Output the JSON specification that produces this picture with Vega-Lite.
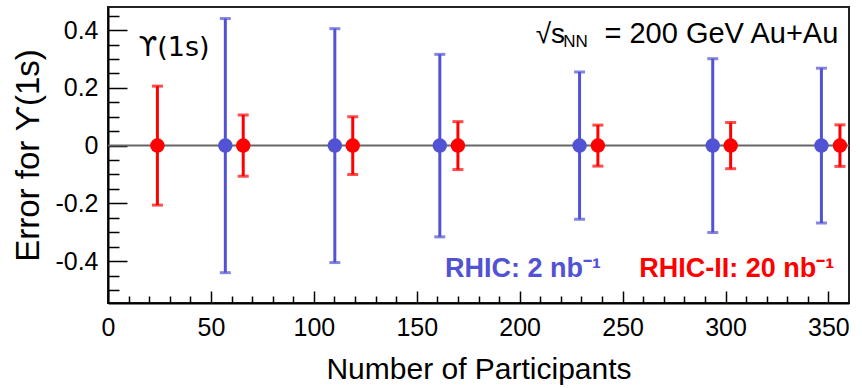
{
  "$schema": "https://vega.github.io/schema/vega-lite/v6.json",
  "width": 741,
  "height": 296,
  "autosize": "none",
  "padding": {"left": 108, "top": 7, "right": 13, "bottom": 85},
  "background": "white",
  "config": {
    "font": "Liberation Sans",
    "view": {"stroke": "#222", "strokeWidth": 2},
    "axis": {
      "grid": false,
      "labelFont": "Liberation Sans",
      "titleFont": "Liberation Sans",
      "labelColor": "black",
      "titleColor": "black",
      "titleFontWeight": "normal",
      "domainColor": "black",
      "tickColor": "black",
      "labelFlush": false,
      "labelOverlap": false
    }
  },
  "data": {"values": [{}]},
  "datasets": {
    "errors": [
      {"run": "RHIC", "npart": 57.0, "val": 0, "err": 0.44},
      {"run": "RHIC", "npart": 110.2, "val": 0, "err": 0.405},
      {"run": "RHIC", "npart": 161.2, "val": 0, "err": 0.316},
      {"run": "RHIC", "npart": 229.1, "val": 0, "err": 0.255},
      {"run": "RHIC", "npart": 293.8, "val": 0, "err": 0.301},
      {"run": "RHIC", "npart": 346.6, "val": 0, "err": 0.268},
      {"run": "RHIC-II", "npart": 24.0, "val": 0, "err": 0.206},
      {"run": "RHIC-II", "npart": 65.7, "val": 0, "err": 0.106},
      {"run": "RHIC-II", "npart": 118.9, "val": 0, "err": 0.1},
      {"run": "RHIC-II", "npart": 170.0, "val": 0, "err": 0.083},
      {"run": "RHIC-II", "npart": 238.0, "val": 0, "err": 0.071},
      {"run": "RHIC-II", "npart": 302.5, "val": 0, "err": 0.08},
      {"run": "RHIC-II", "npart": 355.6, "val": 0, "err": 0.072}
    ]
  },
  "resolve": {"axis": {"x": "independent", "y": "independent"}},
  "layer": [
    {
      "mark": {"type": "rule", "color": "#666", "strokeWidth": 2},
      "encoding": {
        "y": {"datum": 0, "type": "quantitative", "scale": {"domain": [-0.545, 0.48], "nice": false, "zero": false}, "axis": null}
      }
    },
    {
      "data": {"name": "errors"},
      "mark": {"type": "errorbar", "thickness": 3, "ticks": {"size": 11, "thickness": 3}},
      "encoding": {
        "x": {
          "field": "npart", "type": "quantitative",
          "scale": {"domain": [0, 360], "nice": false, "zero": false},
          "axis": {
            "orient": "bottom", "title": null, "labels": false, "domain": false,
            "values": [10, 20, 30, 40, 60, 70, 80, 90, 110, 120, 130, 140, 160, 170, 180, 190, 210, 220, 230, 240, 260, 270, 280, 290, 310, 320, 330, 340],
            "tickSize": -7, "tickWidth": 1.5
          }
        },
        "y": {
          "field": "val", "type": "quantitative",
          "scale": {"domain": [-0.545, 0.48], "nice": false, "zero": false},
          "axis": {
            "orient": "left", "title": null, "labels": false, "domain": false,
            "values": [-0.5, -0.45, -0.35, -0.3, -0.25, -0.15, -0.1, -0.05, 0.05, 0.1, 0.15, 0.25, 0.3, 0.35, 0.45],
            "tickSize": -11, "tickWidth": 1.5
          }
        },
        "yError": {"field": "err"},
        "color": {"field": "run", "type": "nominal", "scale": {"domain": ["RHIC", "RHIC-II"], "range": ["#5252d4", "#ff0000"]}, "legend": null}
      }
    },
    {
      "data": {"name": "errors"},
      "mark": {"type": "point", "filled": true, "shape": "circle", "size": 210, "opacity": 1},
      "encoding": {
        "x": {
          "field": "npart", "type": "quantitative",
          "scale": {"domain": [0, 360], "nice": false, "zero": false},
          "axis": {
            "orient": "bottom", "title": "Number of Participants",
            "values": [0, 50, 100, 150, 200, 250, 300, 350],
            "tickSize": -12, "tickWidth": 1.5, "domainWidth": 2,
            "labelFontSize": 25, "labelPadding": 24,
            "titleFontSize": 30, "titlePadding": 14
          }
        },
        "y": {
          "field": "val", "type": "quantitative",
          "scale": {"domain": [-0.545, 0.48], "nice": false, "zero": false},
          "axis": {
            "orient": "left", "title": "Error for ϒ(1s)",
            "values": [-0.4, -0.2, 0, 0.2, 0.4],
            "labelExpr": "replace(format(datum.value, '.1~f'), '−', '-')",
            "tickSize": -19, "tickWidth": 1.5, "domainWidth": 2,
            "labelFontSize": 25, "labelPadding": 29,
            "titleFontSize": 33, "titlePadding": 9
          }
        },
        "color": {"field": "run", "type": "nominal", "scale": {"domain": ["RHIC", "RHIC-II"], "range": ["#5252d4", "#ff0000"]}, "legend": null}
      }
    },
    {
      "mark": {"type": "text", "text": "ϒ(1s)", "font": "DejaVu Sans", "align": "left", "baseline": "middle", "fontSize": 27, "color": "black"},
      "encoding": {
        "x": {"datum": 14.8, "type": "quantitative", "axis": null},
        "y": {"datum": 0.338, "type": "quantitative", "axis": null}
      }
    },
    {
      "mark": {"type": "text", "text": "√s", "align": "left", "baseline": "alphabetic", "fontSize": 28, "color": "black"},
      "encoding": {
        "x": {"datum": 207.8, "type": "quantitative", "axis": null},
        "y": {"datum": 0.355, "type": "quantitative", "axis": null}
      }
    },
    {
      "mark": {"type": "text", "text": "NN", "align": "left", "baseline": "alphabetic", "fontSize": 17, "color": "black"},
      "encoding": {
        "x": {"datum": 221.2, "type": "quantitative", "axis": null},
        "y": {"datum": 0.341, "type": "quantitative", "axis": null}
      }
    },
    {
      "mark": {"type": "text", "text": "= 200 GeV Au+Au", "align": "right", "baseline": "alphabetic", "fontSize": 29, "color": "black"},
      "encoding": {
        "x": {"datum": 354.8, "type": "quantitative", "axis": null},
        "y": {"datum": 0.355, "type": "quantitative", "axis": null}
      }
    },
    {
      "mark": {"type": "text", "text": "RHIC: 2 nb⁻¹", "align": "left", "baseline": "alphabetic", "fontSize": 27, "fontWeight": "bold", "color": "#5252d4"},
      "encoding": {
        "x": {"datum": 163.7, "type": "quantitative", "axis": null},
        "y": {"datum": -0.455, "type": "quantitative", "axis": null}
      }
    },
    {
      "mark": {"type": "text", "text": "RHIC-II: 20 nb⁻¹", "align": "right", "baseline": "alphabetic", "fontSize": 27, "fontWeight": "bold", "color": "#ff0000"},
      "encoding": {
        "x": {"datum": 352.8, "type": "quantitative", "axis": null},
        "y": {"datum": -0.455, "type": "quantitative", "axis": null}
      }
    }
  ]
}
